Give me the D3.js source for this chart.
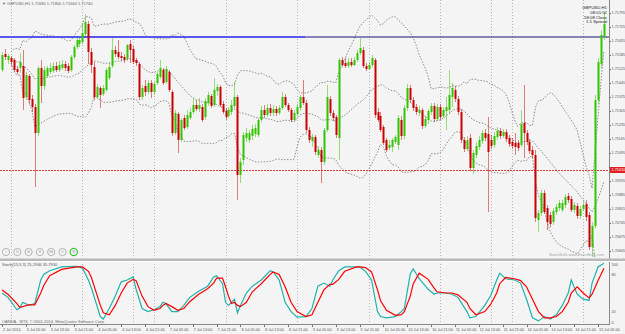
<!DOCTYPE html>
<meta charset="utf-8">
<style>
body { margin: 0; background: #f4f4f4; }
svg { display: block; }
text { font-family: "Liberation Sans", Arial, sans-serif; }
.grid line { stroke: #b4b4b4; stroke-width: 1px; stroke-dasharray: 1,2; shape-rendering: crispEdges; }
.band { fill: none; stroke: #8c8c8c; stroke-width: 1px; stroke-dasharray: 1.5,1.5; }
.axis-text { fill: #555; font-size: 3.8px; }
.tick { stroke: #777; stroke-width: 1px; shape-rendering: crispEdges; }
</style>
<body>
<script src="https://d3js.org/d3.v7.min.js"></script>
<script>

// GBPUSD H1, 2 Jul 2014 21:00 .. 15 Jul 2014 07:00 (one value per bar)
var opens = [1.7151,1.7159,1.7156,1.7157,1.7156,1.71515,1.7152,1.7153,1.71375,1.7148,
 1.71365,1.71325,1.71195,1.7152,1.7143,1.7148,1.715,1.71505,1.7153,1.7151,
 1.7152,1.7154,1.7153,1.7151,1.71575,1.71625,1.7164,1.7165,1.7169,1.7174,
 1.716,1.71525,1.71375,1.7142,1.7139,1.7141,1.7147,1.7153,1.7161,1.716,
 1.7158,1.71575,1.71565,1.7164,1.71615,1.7156,1.7154,1.71375,1.7143,1.714,
 1.71445,1.714,1.71445,1.71475,1.7151,1.7145,1.715,1.714,1.71195,1.7129,
 1.7116,1.7127,1.71225,1.7127,1.713,1.71335,1.71315,1.71325,1.71275,1.71345,
 1.7138,1.71335,1.71405,1.71425,1.7134,1.71305,1.7128,1.713,1.7133,1.71375,
 1.70985,1.7106,1.7117,1.7116,1.7118,1.7119,1.71185,1.7126,1.7131,1.71285,
 1.7132,1.71295,1.71315,1.71295,1.7132,1.71375,1.71335,1.7131,1.7126,1.7129,
 1.7132,1.71375,1.71345,1.7121,1.71155,1.71175,1.71085,1.7111,1.7105,1.7121,
 1.71365,1.71295,1.71275,1.7117,1.7156,1.71545,1.7153,1.7155,1.71535,1.7156,
 1.71595,1.7161,1.7153,1.71515,1.71535,1.7156,1.713,1.7128,1.71225,1.7116,
 1.7112,1.71125,1.7115,1.71135,1.7126,1.7118,1.7132,1.7142,1.7136,1.71325,
 1.71295,1.7131,1.7123,1.7126,1.713,1.7133,1.71265,1.71325,1.7128,1.71305,
 1.7131,1.71375,1.7141,1.71365,1.713,1.7116,1.71115,1.7117,1.7102,1.71085,
 1.71125,1.71155,1.71195,1.7119,1.7116,1.71135,1.71175,1.71205,1.7118,1.712,
 1.7117,1.7115,1.71145,1.71145,1.71135,1.71245,1.71195,1.7115,1.7111,1.71085,
 1.7076,1.70795,1.70895,1.7082,1.70785,1.7075,1.708,1.7082,1.7081,1.70835,
 1.7088,1.70865,1.7081,1.7083,1.7078,1.70815,1.7084,1.70785,1.70625,1.7073,
 1.7136,1.7154,1.7168];
var highs = [1.716,1.71615,1.7159,1.7158,1.7157,1.7153,1.71595,1.7161,1.715,1.7149,
 1.71385,1.7134,1.7153,1.7156,1.7153,1.7153,1.71545,1.7155,1.7155,1.71555,
 1.7156,1.71555,1.71545,1.71585,1.71635,1.7167,1.7167,1.71745,1.7179,1.71755,
 1.7162,1.7155,1.7144,1.7143,1.71435,1.7152,1.7155,1.7167,1.7163,1.7166,
 1.716,1.7159,1.7164,1.7166,1.7163,1.7157,1.7155,1.71435,1.7146,1.7146,
 1.7146,1.7145,1.715,1.7156,1.7152,1.7153,1.7151,1.7141,1.7131,1.713,
 1.7127,1.71285,1.7131,1.7132,1.7137,1.7136,1.7137,1.7134,1.7137,1.714,
 1.7139,1.7147,1.7144,1.71435,1.71355,1.7132,1.71325,1.7136,1.7145,1.71385,
 1.7107,1.712,1.7122,1.7121,1.71235,1.7124,1.7127,1.7133,1.71335,1.7134,
 1.7134,1.71335,1.7133,1.71335,1.714,1.7139,1.71345,1.7132,1.7131,1.7134,
 1.71385,1.7146,1.7136,1.71225,1.7119,1.71185,1.7113,1.71125,1.7122,1.71435,
 1.7138,1.7131,1.71285,1.7157,1.71575,1.7157,1.7157,1.7157,1.71575,1.7161,
 1.7167,1.71625,1.71545,1.7155,1.71585,1.7157,1.7132,1.713,1.71235,1.7117,
 1.7116,1.7117,1.71185,1.71285,1.7128,1.71335,1.7144,1.71435,1.71375,1.7134,
 1.7133,1.7132,1.7128,1.71315,1.71345,1.71345,1.7134,1.7134,1.71325,1.71375,
 1.7151,1.71445,1.7143,1.7138,1.71315,1.71175,1.7118,1.7119,1.7111,1.7115,
 1.7118,1.7121,1.71215,1.71275,1.71185,1.712,1.71225,1.7122,1.71215,1.71215,
 1.71185,1.7117,1.71195,1.7116,1.7131,1.71435,1.7121,1.71165,1.7113,1.7111,
 1.7081,1.7091,1.7091,1.70835,1.708,1.7082,1.7084,1.7086,1.7086,1.7089,
 1.70895,1.7088,1.7085,1.70845,1.7083,1.7085,1.7086,1.708,1.7075,1.71385,
 1.7157,1.7171,1.718];
var lows = [1.715,1.7156,1.7154,1.7153,1.715,1.7149,1.71495,1.7131,1.7136,1.7134,
 1.713,1.70925,1.7118,1.71345,1.7141,1.7147,1.7149,1.71495,1.715,1.715,
 1.7151,1.71505,1.71495,1.715,1.71565,1.71615,1.71625,1.7164,1.7168,1.7154,
 1.71495,1.7136,1.71365,1.7132,1.7138,1.714,1.7146,1.7152,1.71575,1.71565,
 1.71555,1.71545,1.71555,1.71545,1.7154,1.7153,1.7136,1.7136,1.7138,1.7139,
 1.7137,1.71385,1.71435,1.71465,1.71435,1.7144,1.714,1.7118,1.71185,1.71095,
 1.7115,1.7121,1.71215,1.7126,1.7129,1.71305,1.713,1.7125,1.7126,1.7133,
 1.7132,1.71325,1.7138,1.71325,1.7129,1.7126,1.7127,1.71285,1.7132,1.7086,
 1.70945,1.71035,1.7115,1.71145,1.7116,1.71175,1.71175,1.7125,1.7127,1.71275,
 1.7128,1.7128,1.7128,1.71285,1.7131,1.71325,1.713,1.7125,1.7125,1.7128,
 1.71305,1.71335,1.71195,1.71145,1.71125,1.71085,1.7107,1.70945,1.71035,1.712,
 1.7128,1.71255,1.7117,1.7106,1.71525,1.7152,1.7152,1.71525,1.7153,1.7155,
 1.71585,1.7152,1.71505,1.7151,1.71525,1.7127,1.7125,1.712,1.71135,1.711,
 1.7111,1.711,1.7114,1.7111,1.7116,1.71165,1.71305,1.71345,1.71305,1.71285,
 1.7128,1.71215,1.7122,1.7124,1.71285,1.7125,1.71255,1.7126,1.7127,1.7121,
 1.7129,1.71325,1.7135,1.71285,1.71145,1.711,1.71105,1.71005,1.7099,1.7107,
 1.7111,1.7114,1.71155,1.708,1.71115,1.7112,1.7116,1.71165,1.7117,1.7115,
 1.71125,1.71115,1.71085,1.71105,1.71125,1.7107,1.71135,1.7109,1.7107,1.7075,
 1.707,1.7078,1.7079,1.7071,1.70725,1.70735,1.70785,1.70805,1.708,1.7082,
 1.70845,1.708,1.70795,1.70765,1.70765,1.70805,1.70755,1.7061,1.70575,1.7072,
 1.7134,1.7152,1.7166];
var closes = [1.71585,1.71575,1.7158,1.7155,1.7151,1.715,1.7155,1.7137,1.71485,1.7136,
 1.71325,1.71195,1.7152,1.7143,1.7151,1.7152,1.7152,1.7153,1.7151,1.71535,
 1.7154,1.7152,1.71505,1.71575,1.71625,1.7166,1.7166,1.71695,1.7175,1.716,
 1.71535,1.71375,1.71425,1.71385,1.7142,1.7151,1.71525,1.7161,1.7159,1.71575,
 1.7157,1.7156,1.71635,1.7161,1.7155,1.71545,1.71375,1.7142,1.714,1.71445,
 1.714,1.7144,1.7149,1.7152,1.71445,1.71515,1.7141,1.71195,1.71295,1.7116,
 1.7126,1.7122,1.71285,1.713,1.71335,1.71315,1.71335,1.7126,1.71355,1.71385,
 1.7133,1.7141,1.71425,1.71335,1.713,1.71275,1.7131,1.71335,1.71375,1.70985,
 1.7105,1.71185,1.71195,1.71195,1.71215,1.7122,1.7126,1.7131,1.71285,1.7132,
 1.71295,1.71315,1.71295,1.7132,1.71375,1.71335,1.7131,1.7126,1.71295,1.71325,
 1.71375,1.71345,1.7121,1.7116,1.71175,1.711,1.7111,1.7105,1.7121,1.71375,
 1.71295,1.7127,1.71185,1.7156,1.71535,1.7153,1.7155,1.71535,1.7156,1.71595,
 1.7162,1.7153,1.71515,1.71535,1.7157,1.71285,1.7126,1.7121,1.71145,1.7111,
 1.71135,1.7116,1.71175,1.7127,1.7118,1.7132,1.7142,1.7136,1.7132,1.713,
 1.7131,1.7123,1.71265,1.71305,1.7133,1.71265,1.71325,1.71275,1.7131,1.71325,
 1.71385,1.7142,1.71365,1.713,1.7116,1.71115,1.7116,1.7102,1.71095,1.7113,
 1.7116,1.71195,1.7117,1.711,1.7113,1.7118,1.71205,1.7118,1.712,1.71165,
 1.7114,1.7113,1.71125,1.7112,1.7124,1.71195,1.7115,1.71105,1.71085,1.7077,
 1.70795,1.70895,1.708,1.7075,1.7074,1.70805,1.70825,1.70845,1.70845,1.70875,
 1.7086,1.7081,1.70835,1.7078,1.70815,1.70835,1.70775,1.70625,1.7073,1.7136,
 1.7155,1.71685,1.7174];

// Stochastic (13,3,3), at these bar indexes
var stochBars = [0,2,5,6,7,9,11,13,14,16,20,25,27,29,30,33,34,36,38,40,42,44,45,47,49,51,53,54,55,57,
 59,61,63,66,69,71,72,74,75,76,77,78,79,80,82,84,87,89,90,91,93,95,97,99,102,104,106,108,110,111,
 113,115,119,120,122,124,126,127,129,132,134,135,137,138,140,143,145,146,149,151,153,156,157,159,162,164,166,167,169,172,
 174,176,178,180,182,184,186,188,190,191,193,195,197,198,200,202];
var stochMain = [50,43,23,26,35,30,33,71,80,86,92,93,90,71,58,12,8,25,45,68,71,76,56,25,20,23,28,35,33,20,
 20,30,43,53,61,76,78,65,35,30,35,40,18,30,50,61,71,81,86,84,71,35,20,11,12,25,61,66,61,71,
 86,92,92,92,85,71,20,12,10,12,20,25,81,89,73,56,48,50,50,48,43,20,10,12,30,46,71,82,73,71,
 66,40,10,5,12,8,15,30,50,71,48,40,38,66,92,98];
var stochSignal = [55,48,33,27,28,31,31,50,62,78,88,92,92,85,75,30,18,15,30,50,66,72,70,45,28,22,25,30,33,28,
 22,25,36,48,57,66,74,74,60,45,33,35,30,28,35,52,65,75,80,84,80,60,35,20,12,15,35,55,64,64,
 72,85,92,92,91,84,55,38,22,14,15,20,45,65,82,72,58,52,50,50,47,35,25,15,20,32,50,65,75,73,
 70,60,40,20,10,10,12,20,35,50,60,50,42,48,70,90];

var xTickBars = [0,8,16,24,32,40,48,56,64,72,80,88,96,104,112,120,128,136,144,152,160,168,176,184,192,200];
var xTickLabels = ["2 Jul 2014","3 Jul 05:00","3 Jul 13:00","3 Jul 21:00","4 Jul 05:00","4 Jul 13:00","4 Jul 21:00",
 "7 Jul 05:00","7 Jul 13:00","7 Jul 21:00","8 Jul 05:00","8 Jul 13:00","8 Jul 21:00","9 Jul 05:00","9 Jul 13:00",
 "9 Jul 21:00","10 Jul 05:00","10 Jul 13:00","10 Jul 21:00","11 Jul 05:00","11 Jul 13:00","11 Jul 21:00",
 "14 Jul 05:00","14 Jul 13:00","14 Jul 21:00","15 Jul 05:00"];
var gridBars = [3,27,44,51,75,99,123,147,164,171,195];
var priceTicks = [1.71795,1.71725,1.71655,1.71585,1.71515,1.71445,1.71375,1.71305,1.71235,1.71165,
 1.71095,1.71025,1.70955,1.70885,1.70815,1.70745,1.70675,1.70605];
var stochTicks = [100,80,20,0];
var alertPrice = 1.7101;
var trendPrice = 1.71675;
var buttonLabels = ["1","15","30","H","H4","D","W"];

var W = 625, H = 334;
var plotRight = 609, mainBottom = 258, subTop = 262, subBottom = 324;

var x = d3.scaleLinear().domain([0, 202]).range([2, 604]);
var y = d3.scaleLinear().domain([1.7057, 1.7186]).range([mainBottom, 0]);
var ys = d3.scaleLinear().domain([0, 100]).range([subBottom, subTop]);

var svg = d3.select("body").append("svg")
    .attr("width", W).attr("height", H);

svg.append("rect").attr("width", W).attr("height", H).attr("fill", "#f4f4f4");

svg.append("clipPath").attr("id", "clipMain")
  .append("rect").attr("x", 0).attr("y", 0).attr("width", plotRight).attr("height", mainBottom);
svg.append("clipPath").attr("id", "clipSub")
  .append("rect").attr("x", 0).attr("y", subTop).attr("width", plotRight).attr("height", subBottom - subTop);

// vertical grid (day separators)
svg.append("g").attr("class", "grid")
  .selectAll("line").data(gridBars).enter().append("line")
    .attr("x1", function(d) { return Math.round(x(d)) + 0.5; })
    .attr("x2", function(d) { return Math.round(x(d)) + 0.5; })
    .attr("y1", 0).attr("y2", subBottom);

var main = svg.append("g").attr("clip-path", "url(#clipMain)");

// bollinger bands (20, 2) from closes
var bb = [];
closes.forEach(function(c, i) {
  if (i < 3) return;
  var win = closes.slice(Math.max(0, i - 19), i + 1);
  var m = d3.mean(win);
  var sd = Math.sqrt(d3.mean(win, function(v) { return (v - m) * (v - m); }));
  bb.push({i: i, mid: m, up: m + 2 * sd, lo: m - 2 * sd});
});
["up", "mid", "lo"].forEach(function(k) {
  main.append("path").attr("class", "band")
    .attr("d", d3.line().x(function(d) { return x(d.i); }).y(function(d) { return y(d[k]); })(bb));
});

// horizontal lines
main.append("line")
  .attr("x1", 0).attr("x2", x(101.7))
  .attr("y1", y(trendPrice)).attr("y2", y(trendPrice))
  .attr("stroke", "#5858e8").attr("stroke-width", 2);
main.append("line")
  .attr("x1", x(101.7)).attr("x2", plotRight)
  .attr("y1", y(trendPrice)).attr("y2", y(trendPrice))
  .attr("stroke", "#14147a").attr("stroke-width", 1.2);
main.append("line")
  .attr("x1", 0).attr("x2", plotRight)
  .attr("y1", Math.round(y(alertPrice)) + 0.5).attr("y2", Math.round(y(alertPrice)) + 0.5)
  .attr("stroke", "#e23a3a").attr("stroke-width", 1).attr("stroke-dasharray", "2,1");

// candles
var idx = d3.range(opens.length);
function col(i) { return closes[i] >= opens[i] ? "#33c400" : "#c80000"; }
var candles = main.append("g");
candles.selectAll("line").data(idx).enter().append("line")
  .attr("x1", function(i) { return Math.round(x(i)) + 0.5; })
  .attr("x2", function(i) { return Math.round(x(i)) + 0.5; })
  .attr("y1", function(i) { return y(highs[i]); })
  .attr("y2", function(i) { return y(lows[i]); })
  .attr("stroke", col).attr("stroke-opacity", 0.5).attr("stroke-width", 1);
candles.selectAll("rect").data(idx).enter().append("rect")
  .attr("x", function(i) { return Math.round(x(i)) - 0.5; })
  .attr("width", 2)
  .attr("y", function(i) { return y(Math.max(opens[i], closes[i])); })
  .attr("height", function(i) { return Math.max(1, Math.abs(y(opens[i]) - y(closes[i]))); })
  .attr("fill", col);

// price axis
svg.append("line").attr("x1", plotRight + 0.5).attr("x2", plotRight + 0.5)
  .attr("y1", 0).attr("y2", subBottom).attr("stroke", "#888");
var shownTicks = priceTicks.filter(function(d) { return Math.abs(y(d) - y(alertPrice)) > 5; });
var pa = svg.append("g");
pa.selectAll("line").data(priceTicks).enter().append("line").attr("class", "tick")
  .attr("x1", plotRight).attr("x2", plotRight + 2)
  .attr("y1", function(d) { return Math.round(y(d)) + 0.5; })
  .attr("y2", function(d) { return Math.round(y(d)) + 0.5; });
pa.selectAll("text").data(shownTicks).enter().append("text").attr("class", "axis-text")
  .attr("x", plotRight + 2.5).attr("y", function(d) { return y(d) + 1.4; })
  .text(function(d) { return d.toFixed(5); });
svg.append("rect").attr("x", plotRight + 1).attr("y", y(alertPrice) - 3)
  .attr("width", W - plotRight - 1).attr("height", 6).attr("fill", "#e02020");
svg.append("text").attr("x", plotRight + 2.5).attr("y", y(alertPrice) + 1.4)
  .attr("fill", "#fff").attr("font-size", "3.8px").text(alertPrice.toFixed(5));

// texts in the main window
svg.append("text").attr("x", 2).attr("y", 5).attr("fill", "#666").attr("font-size", "4px")
  .text("\u25BC GBPUSD,H1  1.71680 1.71800 1.71660 1.71740");
var info = ["GBPUSD,H1", "08:01:52", "58:08 Close", "1.5 Spread"];
svg.append("g").selectAll("text").data(info).enter().append("text")
  .attr("x", 607).attr("y", function(d, i) { return 9 + i * 4.8; })
  .attr("text-anchor", "end").attr("fill", "#222").attr("font-size", "4.3px")
  .text(function(d) { return d; });
svg.append("text").attr("x", 604).attr("y", 256).attr("text-anchor", "end")
  .attr("fill", "#a8a8a8").attr("font-size", "3.8px").text("BearsBulls www.BearsBulls.com");

// timeframe buttons
var btn = svg.append("g").selectAll("g").data(buttonLabels).enter().append("g")
  .attr("transform", function(d, i) { return "translate(" + (6 + i * 11.3) + ",252)"; });
btn.append("circle").attr("r", 3.6).attr("fill", "#f8f8f8")
  .attr("stroke", function(d, i) { return i === buttonLabels.length - 1 ? "#3cc43c" : "#a0a0a0"; })
  .attr("stroke-width", function(d, i) { return i === buttonLabels.length - 1 ? 1.2 : 0.8; });
btn.append("text").attr("text-anchor", "middle").attr("y", 1).attr("font-size", "2.6px")
  .attr("fill", "#777").text(function(d) { return d; });

// window separator
svg.append("rect").attr("x", 0).attr("y", mainBottom + 0.5).attr("width", W).attr("height", 2.5).attr("fill", "#b9b9b9");
svg.append("line").attr("x1", 0).attr("x2", W).attr("y1", mainBottom + 3.5).attr("y2", mainBottom + 3.5)
  .attr("stroke", "#ffffff");

// stochastic window
var sub = svg.append("g").attr("clip-path", "url(#clipSub)");
var pts = stochBars.map(function(b, i) { return {b: b, k: stochMain[i], d: stochSignal[i]}; });
sub.append("path").attr("fill", "none").attr("stroke", "#20b2aa").attr("stroke-width", 1.2)
  .attr("d", d3.line().x(function(d) { return x(d.b); }).y(function(d) { return ys(d.k); })(pts));
sub.append("path").attr("fill", "none").attr("stroke", "#ff0000").attr("stroke-width", 1.2)
  .attr("d", d3.line().x(function(d) { return x(d.b); }).y(function(d) { return ys(d.d); })(pts));
svg.append("text").attr("x", 2).attr("y", subTop + 4).attr("fill", "#555").attr("font-size", "4px")
  .text("Stoch(13,3,3) 25.2946 35.7930");
svg.append("g").selectAll("text").data(stochTicks).enter().append("text").attr("class", "axis-text")
  .attr("x", plotRight + 2.5)
  .attr("y", function(d) { return Math.min(subBottom - 0.5, Math.max(subTop + 3.5, ys(d) + 1.4)); })
  .text(function(d) { return d; });
svg.append("text").attr("x", 2).attr("y", subBottom - 1.5).attr("fill", "#666").attr("font-size", "4px")
  .text("OANDA - MT4, \u00A9 2001-2014, MetaQuotes Software Corp.");

// time axis
svg.append("line").attr("x1", 0).attr("x2", plotRight + 1)
  .attr("y1", subBottom + 0.5).attr("y2", subBottom + 0.5).attr("stroke", "#888");
var ta = svg.append("g");
ta.selectAll("line").data(xTickBars).enter().append("line").attr("class", "tick")
  .attr("x1", function(d) { return Math.round(x(d)) + 0.5; })
  .attr("x2", function(d) { return Math.round(x(d)) + 0.5; })
  .attr("y1", subBottom).attr("y2", subBottom + 3);
ta.selectAll("text").data(xTickBars).enter().append("text").attr("class", "axis-text")
  .attr("x", function(d) { return x(d) + 1; }).attr("y", 331)
  .text(function(d, i) { return xTickLabels[i]; });

</script>
</body>
